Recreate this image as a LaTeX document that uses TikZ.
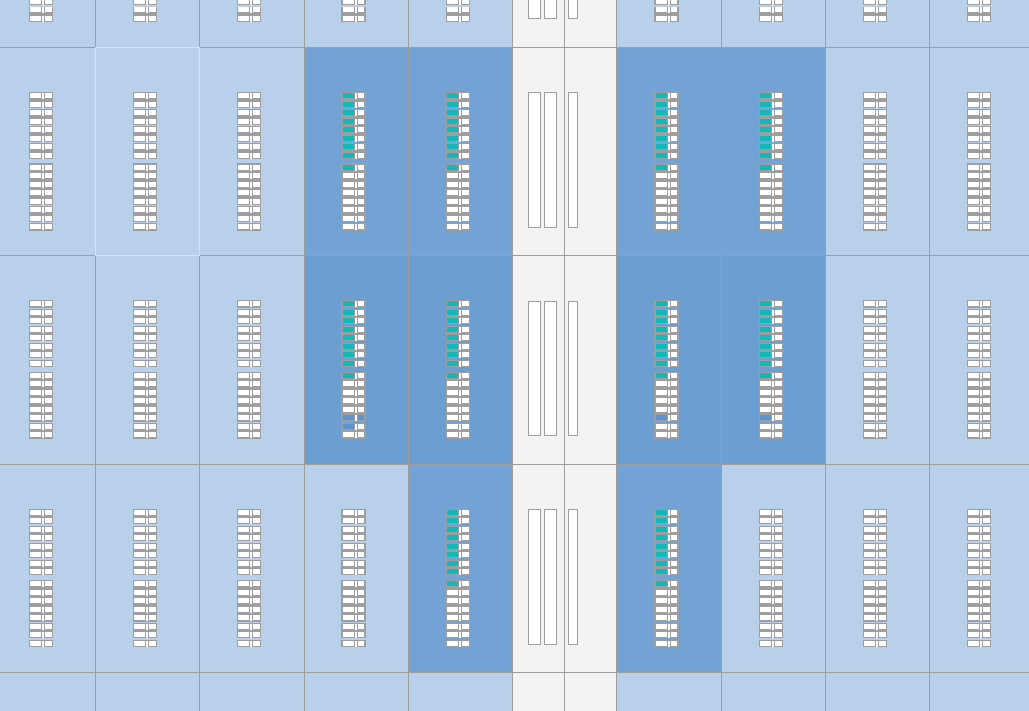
\documentclass[tikz,border=0pt]{standalone}
\definecolor{baylight}{HTML}{B9D0EA}
\definecolor{baydark}{HTML}{73A2D5}
\definecolor{baydarker}{HTML}{6B9ED1}
\definecolor{bayaisle}{HTML}{F3F3F3}
\definecolor{gridgrey}{HTML}{9E9E9E}
\definecolor{hilite}{HTML}{E3EBA8}
\definecolor{tealcell}{HTML}{14B8B8}
\definecolor{bluecell}{HTML}{5B94D1}
\tikzset{
  gridline/.style={draw=gridgrey,line width=1pt},
  blockfill/.style={fill=gridgrey},
  slot/.style={fill=white},
  aislerack/.style={draw=gridgrey,fill=white,line width=1pt}
}
% absolute y of slot #2 (0..15) in the row whose top is #1, on whole pixels
\newcommand{\slotY}[2]{\ifnum#2<8 \pgfmathsetmacro{\sy}{round(#1+45.6+8.5*#2)}\else\pgfmathsetmacro{\sy}{round(#1+117.3+8.5*(#2-8))}\fi}
% #1 left x, #2 row top, #3 block list, #4 teal flag, #5 extra width
\newcommand{\drawrack}[5]{%
  \foreach \a/\b in #3 {%
    \pgfmathsetmacro{\ba}{round(#2+\a)}\pgfmathsetmacro{\bb}{round(#2+\b)}%
    \fill[blockfill] (#1,\ba) rectangle (#1+24+#5,\bb);}%
  \foreach \i in {0,...,15} {%
    \slotY{#2}{\i}%
    \fill[slot] (#1+#5+1,\sy) rectangle (#1+#5+12,\sy+5);
    \fill[slot] (#1+#5+13,\sy) rectangle (#1+#5+15,\sy+6);
    \fill[slot] (#1+#5+16,\sy) rectangle (#1+23,\sy+5);
    \ifnum#4=1 \ifnum\i<9
      \fill[tealcell] (#1+#5+1,\sy) rectangle (#1+#5+12,\sy+5);
    \fi\fi
  }%
}
\newcommand{\cellleft}[4]{\slotY{#2}{#3}\fill[bluecell] (#1+#4+1,\sy) rectangle (#1+#4+12,\sy+5);}
\newcommand{\cellright}[4]{\slotY{#2}{#3}\fill[bluecell] (#1+#4+16,\sy) rectangle (#1+23,\sy+5);}
\def\blocksA{44.8/60.2,61.8/77.2,78.8/94.2,95.8/111.2,115.8/157.5,158.5/174.2,175.5/183.2}
\def\blocksB{44.5/52.2,53.5/68.8,70.5/85.8,87.2/102.5,104.2/111.8,116.8/166.1,167.8/183.2}
\begin{document}
\begin{tikzpicture}[x=1pt,y=-1pt]
\useasboundingbox (0,0) rectangle (1029,711);
\clip (0,0) rectangle (1029,711);
% bays
\foreach \xa/\xb in {-100/95.5,95.5/199.5,199.5/304.5,304.5/408.5,408.5/512.5,616.5/721.5,721.5/825.5,825.5/929.5,929.5/1135}
  \foreach \ya/\yb in {-161/47.5,47.5/255.5,255.5/464.5,464.5/672.5,672.5/880}
    \fill[baylight] (\xa,\ya) rectangle (\xb,\yb);
\foreach \xa/\xb in {512.5/564.5,564.5/616.5}
  \fill[bayaisle] (\xa,-161) rectangle (\xb,880);
\foreach \xa/\xb in {304.5/408.5,408.5/512.5,616.5/721.5,721.5/825.5}
  \fill[baydark] (\xa,47.5) rectangle (\xb,255.5);
\foreach \xa/\xb in {304.5/408.5,408.5/512.5,616.5/721.5,721.5/825.5}
  \fill[baydarker] (\xa,255.5) rectangle (\xb,464.5);
\foreach \xa/\xb in {408.5/512.5,616.5/721.5}
  \fill[baydark] (\xa,464.5) rectangle (\xb,672.5);
% grid lines
\foreach \gx in {95.5,199.5,304.5,408.5,512.5,564.5,616.5,721.5,825.5,929.5}
  \draw[gridline] (\gx,0) -- (\gx,711);
\foreach \gy in {47.5,255.5,464.5,672.5}
  \draw[gridline] (0,\gy) -- (1029,\gy);
\draw[hilite,line width=1pt] (95.5,47.5) rectangle (199.5,255.5);
% racks
\foreach \rx/\rw in {29/0,133/0,237/0,341/1,446/0,654/1,759/0,863/0,967/0} {
  \drawrack{\rx}{-161}{\blocksB}{0}{\rw}
}
\foreach \rx in {29,133,237,863,967} {
  \drawrack{\rx}{47.5}{\blocksA}{0}{0}
  \drawrack{\rx}{255.5}{\blocksB}{0}{0}
  \drawrack{\rx}{464}{\blocksA}{0}{0}
}
\foreach \rx/\rw in {341/1,446/0,654/1,759/0} {
  \drawrack{\rx}{47.5}{\blocksA}{1}{\rw}
  \drawrack{\rx}{255.5}{\blocksB}{1}{\rw}
}
\foreach \rx/\rw in {446/0,654/1} {\drawrack{\rx}{464}{\blocksA}{1}{\rw}}
\foreach \rx/\rw in {341/1,759/0} {\drawrack{\rx}{464}{\blocksA}{0}{\rw}}
\cellleft{341}{255.5}{13}{1}
\cellright{341}{255.5}{13}{1}
\cellleft{341}{255.5}{14}{1}
\cellleft{654}{255.5}{13}{1}
\cellleft{759}{255.5}{13}{0}
% aisle racks
\foreach \rt/\rb in {-120.5/18.5,92.5/227.5,301.5/435.5,509.5/644.5} {
  \draw[aislerack] (528.5,\rt) rectangle (540.5,\rb);
  \draw[aislerack] (544.5,\rt) rectangle (556.5,\rb);
  \draw[aislerack] (568.5,\rt) rectangle (577.5,\rb);
}
\end{tikzpicture}
\end{document}
